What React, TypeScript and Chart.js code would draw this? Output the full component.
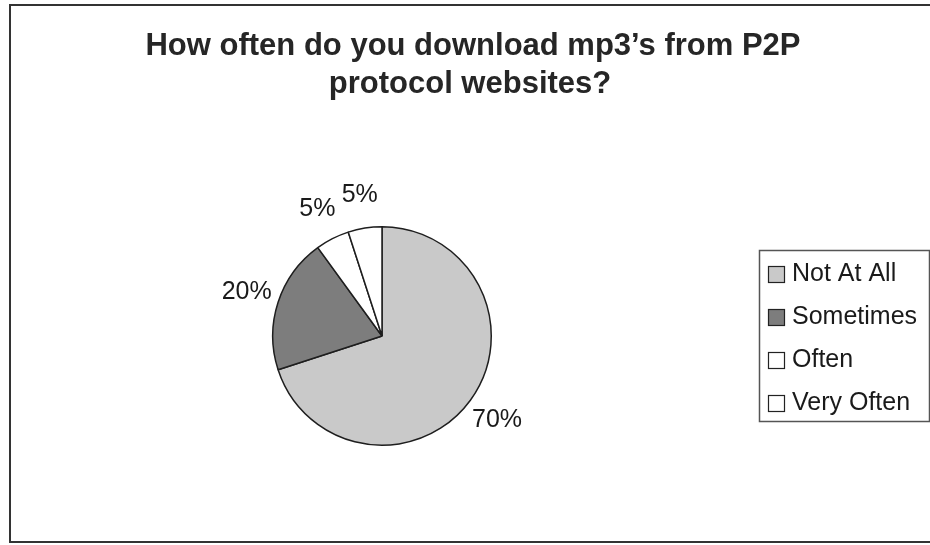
import React, { useEffect, useRef } from "react";
import { Chart, registerables } from "chart.js";

Chart.register(...registerables);

const titleLines = ["How often do you download mp3’s from P2P", "protocol websites?"];
const categories = ["Not At All", "Sometimes", "Often", "Very Often"];
const percentages = [70, 20, 5, 5];
const sliceColors = ["#c9c9c9", "#7d7d7d", "#ffffff", "#ffffff"];

const FONT = "'Liberation Sans', Arial, sans-serif";

const framePlugin = {
  id: "frame",
  beforeDraw(chart: any) {
    const ctx = chart.ctx;
    ctx.save();
    ctx.fillStyle = "#ffffff";
    ctx.fillRect(0, 0, chart.width, chart.height);
    ctx.strokeStyle = "#333333";
    ctx.lineWidth = 2;
    ctx.strokeRect(10, 5, chart.width + 20, 537);
    ctx.restore();
  },
};

const titlePlugin = {
  id: "customTitle",
  afterDraw(chart: any) {
    const ctx = chart.ctx;
    ctx.save();
    ctx.fillStyle = "#262626";
    ctx.font = `bold 31px ${FONT}`;
    ctx.textAlign = "center";
    ctx.textBaseline = "alphabetic";
    ctx.fillText(titleLines[0], 473, 55);
    ctx.fillText(titleLines[1], 470, 93);
    ctx.restore();
  },
};

const labelPlugin = {
  id: "sliceLabels",
  afterDatasetsDraw(chart: any) {
    const ctx = chart.ctx;
    const meta = chart.getDatasetMeta(0);
    const values = chart.data.datasets[0].data as number[];
    ctx.save();
    ctx.fillStyle = "#1a1a1a";
    ctx.font = `25px ${FONT}`;
    ctx.textAlign = "center";
    ctx.textBaseline = "middle";
    meta.data.forEach((arc: any, i: number) => {
      const p = arc.getProps(["x", "y", "startAngle", "endAngle", "outerRadius"], true);
      const mid = (p.startAngle + p.endAngle) / 2;
      const d = p.outerRadius + 33;
      const x = p.x + Math.cos(mid) * d;
      const y = p.y + Math.sin(mid) * d;
      ctx.fillText(`${values[i]}%`, x, y);
    });
    ctx.restore();
  },
};

const legendPlugin = {
  id: "boxedLegend",
  afterDraw(chart: any) {
    const ctx = chart.ctx;
    const labels = chart.data.labels as string[];
    const colors = chart.data.datasets[0].backgroundColor as string[];
    ctx.save();
    ctx.strokeStyle = "#555555";
    ctx.lineWidth = 1.5;
    ctx.strokeRect(759.5, 250.5, 170, 171);
    ctx.font = `25px ${FONT}`;
    ctx.textAlign = "left";
    ctx.textBaseline = "alphabetic";
    labels.forEach((lab, i) => {
      const top = 266.5 + i * 43;
      ctx.fillStyle = colors[i];
      ctx.fillRect(768.5, top, 16, 16);
      ctx.strokeStyle = "#222222";
      ctx.lineWidth = 1.2;
      ctx.strokeRect(768.5, top, 16, 16);
      ctx.fillStyle = "#1a1a1a";
      ctx.fillText(lab, 792, 281 + i * 43);
    });
    ctx.restore();
  },
};

export default function App() {
  const ref = useRef<HTMLCanvasElement>(null);
  useEffect(() => {
    if (!ref.current) return;
    const chart = new Chart(ref.current, {
      type: "pie",
      data: {
        labels: categories,
        datasets: [
          {
            data: percentages,
            backgroundColor: sliceColors,
            borderColor: "#1e1e1e",
            borderWidth: 1.5,
          },
        ],
      },
      options: {
        responsive: false,
        animation: false,
        devicePixelRatio: 1,
        layout: { padding: { left: 272, right: 438, top: 226, bottom: 99 } },
        plugins: {
          legend: { display: false },
          title: { display: false },
          tooltip: { enabled: false },
        },
      },
      plugins: [framePlugin, titlePlugin, labelPlugin, legendPlugin],
    });
    return () => chart.destroy();
  }, []);
  return (
    <div style={{ position: "fixed", left: 0, top: 0, width: 930, height: 545 }}>
      <canvas ref={ref} width={930} height={545} style={{ display: "block" }} />
    </div>
  );
}
